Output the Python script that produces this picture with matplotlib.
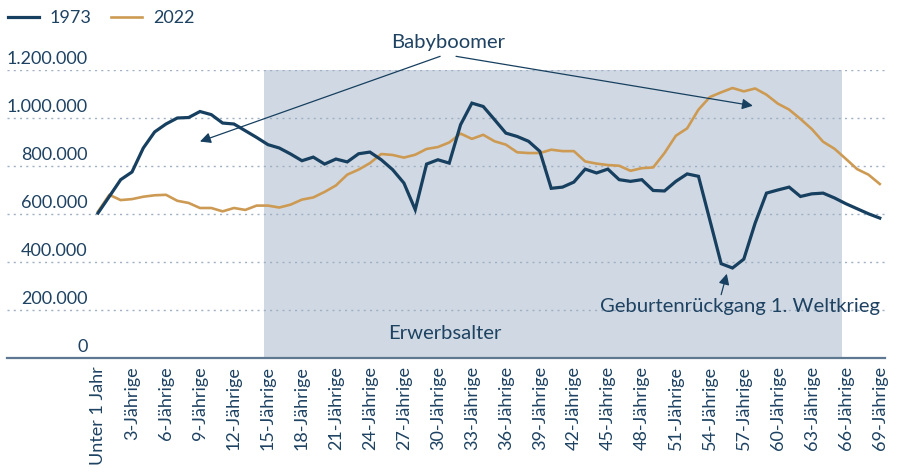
import numpy as np
import matplotlib
matplotlib.use("Agg")
import matplotlib.pyplot as plt

# ==============================
# Daten: Bevölkerung nach Alter (0 bis 69 Jahre)
ages = np.arange(70)
pop_1973 = [604, 673, 743, 775, 875, 942, 975, 1000, 1002, 1027,
            1014, 979, 975, 947, 919, 889, 875, 850, 822, 837,
            808, 829, 817, 851, 858, 826, 785, 729, 618, 808,
            826, 812, 972, 1062, 1048, 993, 937, 923, 903, 861,
            707, 712, 733, 787, 771, 787, 743, 736, 743, 698,
            696, 736, 767, 757, 575, 393, 375, 412, 562, 687,
            700, 712, 673, 684, 687, 667, 643, 622, 601, 583]
pop_2022 = [610, 680, 658, 662, 672, 678, 680, 655, 646, 625,
            625, 611, 625, 617, 635, 635, 627, 639, 660, 669,
            692, 719, 764, 785, 812, 850, 846, 835, 847, 871,
            879, 898, 935, 913, 930, 903, 889, 857, 854, 854,
            868, 862, 862, 819, 810, 804, 801, 780, 791, 794,
            854, 926, 957, 1035, 1087, 1107, 1125, 1111, 1123, 1097,
            1060, 1035, 996, 954, 901, 872, 830, 787, 764, 725]
pop_1973 = np.array(pop_1973) * 1000
pop_2022 = np.array(pop_2022) * 1000

tick_ages = list(range(0, 70, 3))
tick_labels = ["Unter 1 Jahr"] + [f"{a}-Jährige" for a in tick_ages[1:]]
y_ticks = [0, 200000, 400000, 600000, 800000, 1000000, 1200000]
y_labels = ["0", "200.000", "400.000", "600.000", "800.000", "1.000.000", "1.200.000"]

# ==============================
# Farben und Schrift
navy = "#173f5f"
gold = "#cd9a53"
text_col = "#1e4262"
shade = "#d0d9e3"
plt.rcParams["font.family"] = ["Lato", "DejaVu Sans"]
fs = 13        # Achsen / Legende
fs_note = 14.6 # Annotationen

fig = plt.figure(figsize=(8.98, 4.76), dpi=100)
W, H = 898, 476
ax = fig.add_axes([7 / W, 1 - 358 / H, (885 - 7) / W, (358 - 70) / H])

x_left = (7 - 98) / 11.33
x_right = (885 - 98) / 11.33
ax.set_xlim(x_left, x_right)
ax.set_ylim(0, 1200000)

# Erwerbsalter (Schattierung)
ax.axvspan(14.65, 65.7, color=shade, zorder=0.2, lw=0)
ax.text(30.6, 101000, "Erwerbsalter", color=text_col, fontsize=fs_note,
        ha="center", va="center")

# Linien
ax.plot(ages, pop_1973, color=navy, lw=2.3, label="1973", zorder=3,
        solid_joinstyle="miter")
ax.plot(ages, pop_2022, color=gold, lw=1.9, label="2022", zorder=2.5)

# Gitter
ax.set_yticks(y_ticks)
ax.set_yticklabels([])
ax.tick_params(axis="y", length=0)
ax.grid(axis="y", color="#9fb0c4", lw=1, linestyle=(0, (1.5, 3)), zorder=0.5)
for v, lab in zip(y_ticks, y_labels):
    ax.text(-0.9, v + 12000, lab, ha="right", va="bottom", color=text_col,
            fontsize=fs)

ax.set_xticks(tick_ages)
ax.set_xticklabels(tick_labels, rotation=90, color=text_col, fontsize=fs)
ax.tick_params(axis="x", length=0, pad=6)

for s in ["top", "right", "left"]:
    ax.spines[s].set_visible(False)
ax.spines["bottom"].set_color("#5d7890")
ax.spines["bottom"].set_linewidth(1.6)

# Annotationen
arrow = dict(arrowstyle="-|>", color=navy, lw=0.9, mutation_scale=16,
             shrinkA=0, shrinkB=0)
ax.text(30.9, 1314000, "Babyboomer", ha="center", va="center",
        color=text_col, fontsize=fs_note)
ax.annotate("", xy=(9.0, 902000), xytext=(30.2, 1257000),
            arrowprops=arrow, annotation_clip=False)
ax.annotate("", xy=(57.8, 1051000), xytext=(31.6, 1257000),
            arrowprops=arrow, annotation_clip=False)
ax.text(56.7, 215000, "Geburtenrückgang 1. Weltkrieg", ha="center",
        va="center", color=text_col, fontsize=fs_note)
ax.annotate("", xy=(55.5, 351000), xytext=(55.0, 264000),
            arrowprops=arrow, annotation_clip=False)

# Legende
fig.legend(loc="center left", bbox_to_anchor=(8 / W, 1 - 18 / H), ncol=2,
           frameon=False, fontsize=fs, handlelength=1.7, handletextpad=0.6,
           columnspacing=1.1, borderpad=0, borderaxespad=0,
           labelcolor=text_col)

fig.savefig("out.png", dpi=100)
